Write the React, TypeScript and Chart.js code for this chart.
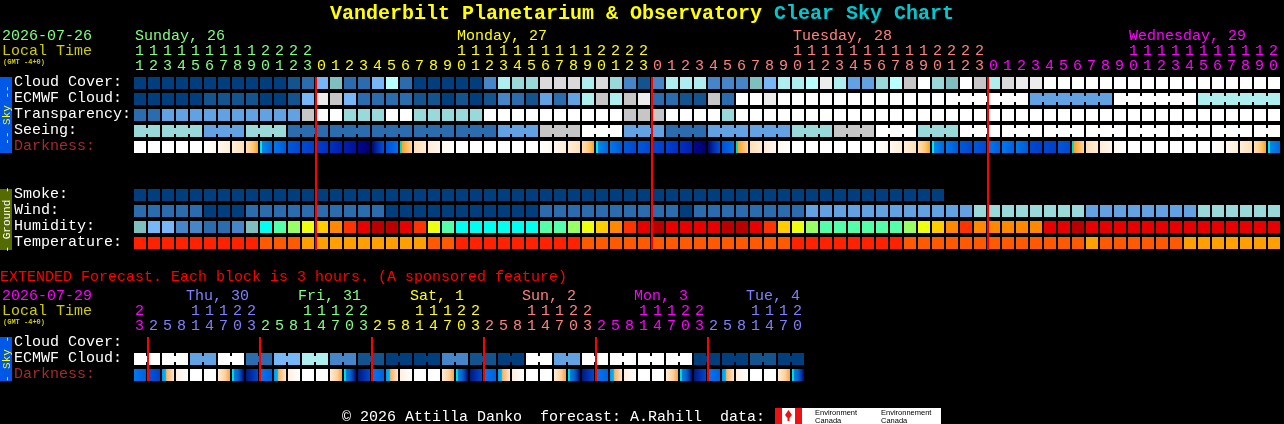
import { useEffect, useRef } from "react"
import { Chart, registerables } from "chart.js"

Chart.register(...registerables)

// colour keys, same scale as the clear sky chart legend
const palette: Record<string, string> = {
  A: "#003e7e", B: "#13548f", C: "#2b6cae", D: "#4585c8", E: "#62a2e2", F: "#77b7f7",
  G: "#80bfbf", H: "#99d9d9", I: "#afeeee", J: "#b8ffff", K: "#c6c6c6", L: "#dadada",
  M: "#ececec", W: "#ffffff",
  n: "#00ffee", o: "#55ffaa", p: "#99ff66", q: "#eeff11", r: "#ffcc00", s: "#ff8800",
  t: "#ff3300", u: "#e60000", v: "#b80000",
  x: "#ff2200", y: "#ff5a00", z: "#ffa000",
}

const cloudCover = "AAAAAAAAAAABCFGCCFJCAAAAADIHHLLLILHDBDIIIDDDGFIIJMIEEHJKWHGWKILMMWWWWWWWWWWWWWWWWW"
const ecmwfCloud = "AAAAABBBBAABFMKFCCCCBBABABDCBECEIKIKMCCBBKCWWMWWWWWWWWWWWWWWWWWWEEEEEEWWWWWWIIIIII"
const transparency = "CCEEEEEEEEEEKWWHHHWWHHHHHWWWWWWWWWWKKKWWWWHWWWWWWWWWWWWWWWWWWWWWWWWWWWWWWWWWWWWWWW"
const seeing = "HHHHHEEEHHHCCCCCCCCCCCCCCCEEEKKKWWWEEECCCEEEEEEHHHKKKWWWHHHWWWWWWWWWWWWWWWWWWWWWWW"
const darkness = [
  "w", "w", "w", "w", "w", "a", "b", "c", "d", "e", "f", "g", "h", "i", "j", "k", "l", "m", "n", "o", "p", "q", "r",
  "w", "w", "w", "w", "w", "w", "a", "b", "c", "d", "e", "f", "g", "g", "h", "i", "j", "l", "m", "n", "o", "p", "q", "r",
  "w", "w", "w", "w", "w", "w", "a", "b", "c", "d", "e", "f", "g", "g", "s", "s", "f", "h", "h", "g", "o", "p", "q", "r",
  "w", "w", "w", "w", "w", "w", "a", "b", "c", "d", "e",
]
const smoke = "AAAAAAAAAAAAAAAAAAAAAAAAAAAAAAAAAAAAAAAAAAAAAAAAAAAAAAAAAA"
const wind = "CCCCCAAACCCCCCCCCCAAAAAAAAAAACCCCCCCCCCACCCCCCCCEEEEEEEEEEEEHHHHHHHHEEEEEEEEHHHHHH"
const humidity = "GFFDDCCDGnopqrstuvvutqonnnnnnoopqrstuvuuuuvvutrqpoooooopqrstsssssuuvuuuuuuuuuuuuuu"
const temperature = "xxxxxxxxxyyyzzzzzzzzzyyxxxxxxxxxyyyyyyyyyyyyyyyxxxxxxxxyyyyyyyyyyyyyzyyyyyyzzzzzzz"

const extEcmwf = "WWWWEEWWCCFFIIDDBBAAAADDBBAAWWEEWWWWWWWWAAAABBAA"
const extDarkness = [
  "s", "t", "u", "v", "w", "w", "x", "y", "z", "s", "u", "v", "w", "w", "x", "y", "z", "s", "u", "v", "w", "w", "x", "y",
  "z", "s", "u", "v", "w", "w", "x", "y", "z", "s", "u", "v", "w", "w", "x", "y", "z", "s", "u", "v", "w", "w", "x", "y",
]

// darkness blocks are shaded inside the block: [offset, colour]
const darkStops: Record<string, [number, string][]> = {
  w: [[0, "#ffffff"], [1, "#ffffff"]],
  a: [[0, "#ffffff"], [1, "#fff8ee"]],
  b: [[0, "#fff8ee"], [1, "#ffeed8"]],
  c: [[0, "#ffeed8"], [1, "#ffe0b8"]],
  d: [[0, "#ffe0b8"], [0.6, "#ffc870"], [1, "#ffa020"]],
  e: [[0, "#00e8e8"], [0.14, "#00e8e8"], [0.18, "#0088e8"], [1, "#0068e0"]],
  f: [[0, "#0078e8"], [1, "#0058d8"]],
  g: [[0, "#0058d8"], [1, "#0048d0"]],
  h: [[0, "#0048d0"], [1, "#0040c8"]],
  i: [[0, "#0040d0"], [1, "#0030c0"]],
  j: [[0, "#0030c0"], [1, "#0020b0"]],
  k: [[0, "#0020a8"], [1, "#0010a0"]],
  l: [[0, "#000890"], [1, "#000068"]],
  m: [[0, "#000870"], [0.5, "#0030b0"], [1, "#0050d8"]],
  n: [[0, "#0050d8"], [1, "#0070e8"]],
  o: [[0, "#00d8c0"], [0.12, "#00d8c0"], [0.16, "#ffa020"], [1, "#ffd8a0"]],
  p: [[0, "#ffe0b8"], [1, "#ffecd4"]],
  q: [[0, "#ffecd8"], [1, "#fff6ea"]],
  r: [[0, "#fff8ee"], [1, "#ffffff"]],
  s: [[0, "#0078f0"], [1, "#0060e0"]],
  t: [[0, "#0058d8"], [1, "#0040c8"]],
  u: [[0, "#0098f0"], [0.33, "#00c0f0"], [0.38, "#ffb060"], [1, "#ffe8d0"]],
  v: [[0, "#fff0e0"], [1, "#ffffff"]],
  x: [[0, "#ffeed8"], [0.6, "#ffd098"], [1, "#ffa040"]],
  y: [[0, "#00e0e0"], [0.12, "#00e0e0"], [0.16, "#0080e0"], [0.5, "#0068d0"], [1, "#000880"]],
  z: [[0, "#001880"], [1, "#0048d0"]],
}

const mainHours = [
  11, 12, 13, 14, 15, 16, 17, 18, 19, 20, 21, 22, 23,
  0, 1, 2, 3, 4, 5, 6, 7, 8, 9, 10, 11, 12, 13, 14, 15, 16, 17, 18, 19, 20, 21, 22, 23,
  0, 1, 2, 3, 4, 5, 6, 7, 8, 9, 10, 11, 12, 13, 14, 15, 16, 17, 18, 19, 20, 21, 22, 23,
  0, 1, 2, 3, 4, 5, 6, 7, 8, 9, 10, 11, 12, 13, 14, 15, 16, 17, 18, 19, 20,
]
const extHours = [
  23, 2, 5, 8, 11, 14, 17, 20, 23, 2, 5, 8, 11, 14, 17, 20, 23, 2, 5, 8, 11, 14, 17, 20, 23,
  2, 5, 8, 11, 14, 17, 20, 23, 2, 5, 8, 11, 14, 17, 20, 23, 2, 5, 8, 11, 14, 17, 20,
]

const mainMidnights = [13, 37, 61]
const extMidnights = [1, 9, 17, 25, 33, 41]

const mainDayNames = ["Sunday, 26", "Monday, 27", "Tuesday, 28", "Wednesday, 29"]
const mainDayCells = [0.14, 23.14, 47.14, 71.14]
const mainDayColors = ["#80ff80", "#ffff00", "#ff8080", "#ff00ff"]
const extDayNames = ["", "Thu, 30", "Fri, 31", "Sat, 1", "Sun, 2", "Mon, 3", "Tue, 4"]
const extDayCells = [0, 3.79, 11.79, 19.79, 27.79, 35.79, 43.79]
const extDayColors = ["#ff00ff", "#8080ff", "#80ff80", "#ffff00", "#ff8080", "#ff00ff", "#8080ff"]

const sideLabels = ["Cloud Cover:", "ECMWF Cloud:", "Transparency:", "Seeing:", "Darkness:"]
const groundLabels = ["Smoke:", "Wind:", "Humidity:", "Temperature:"]

// top edge of each row, y scale runs in page pixels
const SKY_TOP = 77
const GROUND_TOP = 189
const EXT_TOP = 337
const ROW = 16
const CELL_H = 12
const MONO = '"Liberation Mono", monospace'

function cellDataset(keys: string[] | string, top: number) {
  const list = Array.from(keys)
  return {
    xAxisID: "x",
    grouped: false,
    barPercentage: 12 / 14,
    categoryPercentage: 1,
    borderWidth: 0,
    data: list.map((_, i) => ({ x: i + 0.5, y: [top, top + CELL_H] })),
    backgroundColor: list.map((k) => palette[k]),
  }
}

function darkDataset(keys: string[], top: number) {
  return {
    xAxisID: "x",
    grouped: false,
    barPercentage: 12 / 14,
    categoryPercentage: 1,
    borderWidth: 0,
    data: keys.map((_, i) => ({ x: i + 0.5, y: [top, top + CELL_H] })),
    backgroundColor: (c: any) => {
      if (c.dataIndex === undefined || !c.chart.scales.x) return "#fff"
      const mid = c.chart.scales.x.getPixelForValue(c.dataIndex + 0.5)
      if (!Number.isFinite(mid)) return "#fff"
      const g = c.chart.ctx.createLinearGradient(mid - 6, 0, mid + 6, 0)
      for (const [o, col] of darkStops[keys[c.dataIndex]]) g.addColorStop(o, col)
      return g
    },
  }
}

// the small bars that tie blocks of one forecast period together
function joinDataset(keys: string, top: number, joined: (k: number) => boolean) {
  const bounds: number[] = []
  for (let k = 1; k < keys.length; k++) if (joined(k)) bounds.push(k)
  return {
    xAxisID: "xJoin",
    grouped: false,
    maxBarThickness: 2,
    borderWidth: 0,
    data: bounds.map((k) => ({ x: k, y: [top + 3, top + 9] })),
    backgroundColor: bounds.map((k) => palette[keys[k]]),
  }
}

function midnightDataset(cells: number[], top: number, bottom: number) {
  return {
    xAxisID: "xLine",
    grouped: false,
    maxBarThickness: 2,
    borderWidth: 0,
    data: cells.map((c) => ({ x: c, y: [top, bottom] })),
    backgroundColor: "#ff0000",
  }
}

function text(ctx: CanvasRenderingContext2D, s: string, x: number, y: number, color: string, font = `15px ${MONO}`, align: CanvasTextAlign = "left") {
  ctx.font = font
  ctx.fillStyle = color
  ctx.textAlign = align
  ctx.textBaseline = "alphabetic"
  ctx.fillText(s, x, y)
}

function sideBar(ctx: CanvasRenderingContext2D, top: number, bottom: number, bg: string, fg: string, label: string) {
  ctx.fillStyle = bg
  ctx.fillRect(0, top, 12, bottom - top)
  ctx.save()
  ctx.translate(10, (top + bottom) / 2)
  ctx.rotate(-Math.PI / 2)
  text(ctx, label, 0, 0, fg, `11px ${MONO}`, "center")
  ctx.restore()
}

function hourRows(ctx: CanvasRenderingContext2D, xs: any, hours: number[], colorAt: (i: number) => string, tensY: number, onesY: number) {
  hours.forEach((h, i) => {
    const px = xs.getPixelForValue(i + 0.5) - 0.5
    if (h >= 10) text(ctx, String(Math.floor(h / 10)), px, tensY, colorAt(i), undefined, "center")
    text(ctx, String(h % 10), px, onesY, colorAt(i), undefined, "center")
  })
}

const pageText = {
  id: "pageText",
  beforeDraw(chart: any) {
    const ctx = chart.ctx as CanvasRenderingContext2D
    ctx.save()
    ctx.fillStyle = "#000"
    ctx.fillRect(0, 0, chart.width, chart.height)
    ctx.restore()
  },
  afterDraw(chart: any) {
    const ctx = chart.ctx as CanvasRenderingContext2D
    const xs = chart.scales.x
    ctx.save()

    const titleFont = `bold 20px ${MONO}`
    text(ctx, "Vanderbilt Planetarium & Observatory", 330, 19, "#ffff00", titleFont)
    text(ctx, "Clear Sky Chart", 774, 19, "#00c8d0", titleFont)

    // main block header
    text(ctx, "2026-07-26", 2, 40, "#80ff80")
    text(ctx, "Local Time", 2, 55, "#cccc00")
    text(ctx, "(GMT -4+0)", 3, 64, "#cccc00", `bold 7px ${MONO}`)
    mainDayNames.forEach((d, i) => text(ctx, d, xs.getPixelForValue(mainDayCells[i]), 40, mainDayColors[i]))
    hourRows(ctx, xs, mainHours, (i) => mainDayColors[mainMidnights.filter((m) => m <= i).length], 55, 70)

    sideBar(ctx, SKY_TOP, SKY_TOP + 76, "#0058e8", "#ffff00", "-- Sky --")
    sideLabels.forEach((l, i) => text(ctx, l, 14, SKY_TOP + 9 + i * ROW, i === 4 ? "#a52a2a" : "#ffffff"))
    sideBar(ctx, GROUND_TOP, GROUND_TOP + 61, "#556b00", "#ffffff", "- Ground -")
    groundLabels.forEach((l, i) => text(ctx, l, 14, GROUND_TOP + 9 + i * ROW, "#ffffff"))

    // extended block
    text(ctx, "EXTENDED Forecast. Each block is 3 hours. (A sponsored feature)", 0, 281, "#ff0000")
    text(ctx, "2026-07-29", 2, 300, "#ff00ff")
    text(ctx, "Local Time", 2, 315, "#cccc00")
    text(ctx, "(GMT -4+0)", 3, 324, "#cccc00", `bold 7px ${MONO}`)
    extDayNames.forEach((d, i) => text(ctx, d, xs.getPixelForValue(extDayCells[i]), 300, extDayColors[i]))
    hourRows(ctx, xs, extHours, (i) => extDayColors[extMidnights.filter((m) => m <= i).length], 315, 330)

    sideBar(ctx, EXT_TOP, EXT_TOP + 44, "#0058e8", "#ffff00", "- Sky -")
    text(ctx, "Cloud Cover:", 14, EXT_TOP + 9, "#ffffff")
    text(ctx, "ECMWF Cloud:", 14, EXT_TOP + 25, "#ffffff")
    text(ctx, "Darkness:", 14, EXT_TOP + 41, "#a52a2a")

    // footer
    text(ctx, "\u00a9 2026 Attilla Danko  forecast: A.Rahill  data:", 342, 421, "#ffffff")
    ctx.fillStyle = "#ffffff"
    ctx.fillRect(775, 408, 166, 16)
    ctx.fillStyle = "#ee1111"
    ctx.fillRect(775, 408, 7, 16)
    ctx.fillRect(795, 408, 7, 16)
    ctx.beginPath()
    ctx.moveTo(788.5, 410)
    ctx.lineTo(792, 415)
    ctx.lineTo(789.5, 418)
    ctx.lineTo(789.5, 421)
    ctx.lineTo(787.5, 421)
    ctx.lineTo(787.5, 418)
    ctx.lineTo(785, 415)
    ctx.closePath()
    ctx.fill()
    const logoFont = `7.5px "Liberation Sans", sans-serif`
    text(ctx, "Environment", 815, 415, "#000000", logoFont)
    text(ctx, "Canada", 815, 423, "#000000", logoFont)
    text(ctx, "Environnement", 881, 415, "#000000", logoFont)
    text(ctx, "Canada", 881, 423, "#000000", logoFont)

    ctx.restore()
  },
}

export default function App() {
  const canvasRef = useRef<HTMLCanvasElement>(null)

  useEffect(() => {
    document.body.style.margin = "0"
    document.body.style.background = "#000"
    if (!canvasRef.current) return

    const row = (top: number, n: number) => top + n * ROW
    const chart = new Chart(canvasRef.current, {
      type: "bar",
      data: {
        datasets: [
          midnightDataset(mainMidnights, SKY_TOP, GROUND_TOP + 61),
          midnightDataset(extMidnights, EXT_TOP, EXT_TOP + 44),
          cellDataset(cloudCover, row(SKY_TOP, 0)),
          cellDataset(ecmwfCloud, row(SKY_TOP, 1)),
          joinDataset(ecmwfCloud, row(SKY_TOP, 1), (k) => k > 58 && (k - 58) % 6 !== 0),
          cellDataset(transparency, row(SKY_TOP, 2)),
          cellDataset(seeing, row(SKY_TOP, 3)),
          joinDataset(seeing, row(SKY_TOP, 3), (k) => (k - 2) % 3 !== 0),
          darkDataset(darkness, row(SKY_TOP, 4)),
          cellDataset(smoke, row(GROUND_TOP, 0)),
          cellDataset(wind, row(GROUND_TOP, 1)),
          cellDataset(humidity, row(GROUND_TOP, 2)),
          cellDataset(temperature, row(GROUND_TOP, 3)),
          cellDataset(extEcmwf, row(EXT_TOP, 1)),
          joinDataset(extEcmwf, row(EXT_TOP, 1), (k) => k % 2 === 1),
          darkDataset(extDarkness, row(EXT_TOP, 2)),
        ] as any,
      },
      options: {
        animation: false,
        responsive: false,
        devicePixelRatio: 1,
        layout: { padding: { left: 133, right: 3, top: 0, bottom: 0 } },
        plugins: { legend: { display: false }, tooltip: { enabled: false } },
        scales: {
          x: { type: "linear", min: 0, max: 82, offset: false, display: false },
          xJoin: { type: "linear", axis: "x", min: 0, max: 82, offset: false, display: false },
          // midnight lines sit one pixel right of the block boundary
          xLine: { type: "linear", axis: "x", min: -1 / 14, max: 82 - 1 / 14, offset: false, display: false },
          y: { type: "linear", min: 0, max: 424, reverse: true, display: false },
        },
      } as any,
      plugins: [pageText],
    })

    return () => chart.destroy()
  }, [])

  return <canvas ref={canvasRef} width={1284} height={424} style={{ display: "block" }} />
}
